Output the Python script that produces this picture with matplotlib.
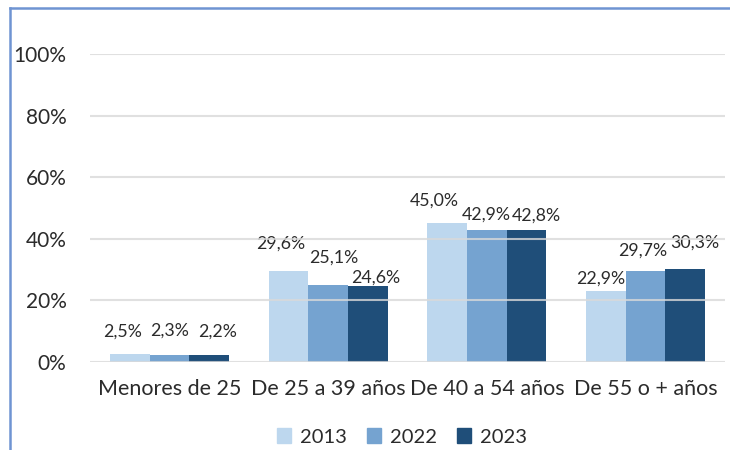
import matplotlib
matplotlib.use("Agg")
import matplotlib.pyplot as plt
from matplotlib.lines import Line2D
import numpy as np

categories = ["Menores de 25", "De 25 a 39 años", "De 40 a 54 años", "De 55 o + años"]
years = ["2013", "2022", "2023"]
v2013 = [2.5, 29.6, 45.0, 22.9]
v2022 = [2.3, 25.1, 42.9, 29.7]
v2023 = [2.2, 24.6, 42.8, 30.3]
yticks = [0, 20, 40, 60, 80, 100]

colors = ["#BDD7EE", "#75A3D0", "#1F4E79"]
# label offsets (pixels) relative to bar top centre: (dx, dy)
label_offsets = [
    [(-7, 23), (-8, 27), (-13, 23), (-5, 13)],
    [(0, 24), (6, 27), (-1, 15), (-3, 20)],
    [(8, 24), (8, 9), (10, 15), (9, 26)],
]

plt.rcParams['font.family'] = ['Lato', 'DejaVu Sans']
txt = "#2b2b2b"

fig = plt.figure(figsize=(7.3, 4.5), dpi=100)
ax = fig.add_axes([90/730, 1-362/450, (725-90)/730, (362-54)/450])

x = np.arange(len(categories))
w = 0.25
series = [v2013, v2022, v2023]
for i, (vals, c) in enumerate(zip(series, colors)):
    bars = ax.bar(x + (i-1)*w, vals, width=w, color=c, label=years[i], zorder=2)
    for j, (b, v) in enumerate(zip(bars, vals)):
        dx, dy = label_offsets[i][j]
        ax.annotate(f"{v:.1f}%".replace(".", ","),
                    (b.get_x() + b.get_width()/2, v),
                    xytext=(dx, dy), textcoords="offset pixels",
                    ha="center", va="center", fontsize=12.8, color=txt)

ax.set_ylim(0, 100)
ax.set_xlim(-0.5, len(categories)-0.5)
ax.set_yticks(yticks)
ax.set_yticklabels([f"{t}%" for t in yticks], fontsize=15, color=txt)
for t in yticks:
    ax.axhline(t, color="#D9D9D9", lw=1.5, zorder=3, alpha=0.8)
ax.set_xticks(x)
ax.set_xticklabels(categories, fontsize=15.5, color=txt)
ax.tick_params(axis='both', length=0)
ax.tick_params(axis='y', pad=17)
ax.tick_params(axis='x', pad=12)
for s in ax.spines.values():
    s.set_visible(False)

handles = [plt.Rectangle((0, 0), 1, 1, color=c) for c in colors]
fig.legend(handles, years, loc="center", bbox_to_anchor=(402/730, 1-437/450),
           ncol=3, frameon=False, fontsize=14.5, handlelength=0.7, handleheight=0.7,
           columnspacing=1.0, handletextpad=0.45, labelcolor=txt)

# outer frame (left and top edges)
fig.add_artist(Line2D([9.5/730, 9.5/730], [0, 1-8/450], transform=fig.transFigure,
                      color="#6F94D2", lw=1.8))
fig.add_artist(Line2D([9.5/730, 1], [1-8/450, 1-8/450], transform=fig.transFigure,
                      color="#6F94D2", lw=1.8))

fig.savefig("out.png", dpi=100)
